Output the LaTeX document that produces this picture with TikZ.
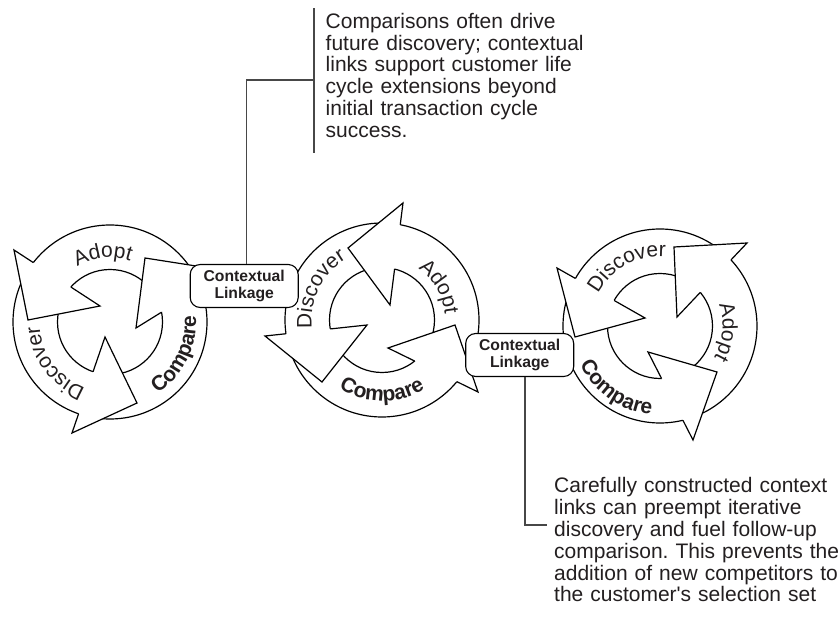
\documentclass[tikz,border=0pt]{standalone}
\usepackage{fontspec}
\setmainfont{Liberation Sans}
\usetikzlibrary{decorations.text,intersections,calc}

\definecolor{ink}{HTML}{231F20}

\newcommand\arcfont{\fontsize{21}{21}\selectfont}
\newcommand\arcboldfont{\fontsize{21}{21}\selectfont\bfseries}
\newcommand\notefont{\fontsize{21}{21.8}\selectfont\frenchspacing}
\newcommand\linkfont{\fontsize{15.7}{17.5}\selectfont\bfseries}

\tikzset{
  rim/.style={draw=black, line width=1.2pt, line join=miter},
  linkbox/.style={draw=black, fill=white, line width=1.1pt, rounded corners=10pt,
    minimum width=108pt, minimum height=43pt, inner sep=0pt, align=center,
    font=\linkfont, text=ink},
  leader/.style={draw=black!72, line width=1.3pt},
  note/.style={anchor=base west, align=left, text width=300pt, inner sep=0pt,
    font=\notefont, text=ink},
}

% outer and inner rim of one cycle
\newcommand\ringpair[1]{%
  \draw[rim] (#1) circle[radius=97pt];
  \draw[rim] (#1) circle[radius=52.5pt];
}

% arrow head on a ring: #1 centre, #2 outer barb, #3 tip, #4 inner barb
\newcommand\cyclehead[4]{%
  \path[name path=hdO] (#1) circle[radius=97pt];
  \path[name path=hdI] (#1) circle[radius=52.5pt];
  \path[name path=hdB] #2 -- #4;
  \path[name intersections={of=hdO and hdB, by=hdNo}];
  \path[name intersections={of=hdI and hdB, by=hdNi}];
  \fill[white] #2 -- #3 -- #4 -- cycle;
  \draw[rim] (hdNo) -- #2 -- #3 -- #4 -- (hdNi);
}

% curved label: #1 centre, #2 mid angle, #3 baseline radius,
% #4 direction (1 = counterclockwise, -1 = clockwise), #5 font, #6 text
\newcommand\arclabel[6]{%
  \path[decorate, decoration={text along path, text align=center,
      text color=ink, text={|#5|#6}}]
    (#1) ++({#2-#4*60}:#3) arc[start angle={#2-#4*60}, end angle={#2+#4*60}, radius=#3];
}

\begin{document}
\begin{tikzpicture}[x=1pt,y=1pt]
\useasboundingbox (0,0) rectangle (839,-617);

\coordinate (c1) at (110,-322);
\coordinate (c2) at (382,-320);
\coordinate (c3) at (660,-326);

% first cycle
\ringpair{c1}
\cyclehead{c1}{(14,-250)}{(28,-320)}{(100,-306)}
\cyclehead{c1}{(72,-433)}{(137,-403)}{(105,-337)}
\cyclehead{c1}{(228,-271)}{(145,-258)}{(136,-328)}
\arclabel{c1}{96}{64.5}{-1}{\arcfont}{Adopt}
\arclabel{c1}{216.5}{70.5}{-1}{\arcfont}{Discover}
\arclabel{c1}{-26}{86}{1}{\arcboldfont}{Compare}

% second cycle
\ringpair{c2}
\cyclehead{c2}{(403,-203)}{(348,-248)}{(390,-305)}
\cyclehead{c2}{(265,-336)}{(322,-382)}{(367,-325)}
\cyclehead{c2}{(478,-392)}{(455,-325)}{(388,-348)}
\arclabel{c2}{153.5}{70.5}{-1}{\arcfont}{Discover}
\arclabel{c2}{30}{63}{-1}{\arcfont}{Adopt}
\arclabel{c2}{270}{81}{1}{\arcboldfont}{Compare}

% third cycle
\ringpair{c3}
\cyclehead{c3}{(557,-268)}{(575,-337)}{(645,-318)}
\cyclehead{c3}{(747,-243)}{(674,-247)}{(677,-317)}
\cyclehead{c3}{(693,-440)}{(717,-372)}{(648,-352)}
\arclabel{c3}{119}{69.5}{-1}{\arcfont}{Discover}
\arclabel{c3}{-5}{62.5}{-1}{\arcfont}{Adopt}
\arclabel{c3}{235}{89}{1}{\arcboldfont}{Compare}

% linkage boxes
\node[linkbox] (link1) at (244.2,-286) {Contextual\\Linkage};
\node[linkbox] (link2) at (519.7,-355) {Contextual\\Linkage};

% upper note
\coordinate (tick1) at (314,-80);
\coordinate (bar1top) at (314,-8.3);
\coordinate (bar1bot) at (314,-153.3);
\draw[leader] ([xshift=2.5pt]link1.north) |- (tick1);
\draw[leader] (bar1top) -- (bar1bot);
\node[note] (note1) at (325.5,-28.3) {Comparisons often drive\\
  future discovery; contextual\\
  links support customer life\\
  cycle extensions beyond\\
  initial transaction cycle\\
  success.};

% lower note
\coordinate (tick2) at (547,-525);
\draw[leader] ([xshift=5.3pt]link2.south) |- (tick2);
\node[note] (note2) at (554,-493) {Carefully constructed context\\
  links can preempt iterative\\
  discovery and fuel follow-up\\
  comparison. This prevents the\\
  addition of new competitors to\\
  the customer\textquotesingle s selection set};
\end{tikzpicture}
\end{document}
